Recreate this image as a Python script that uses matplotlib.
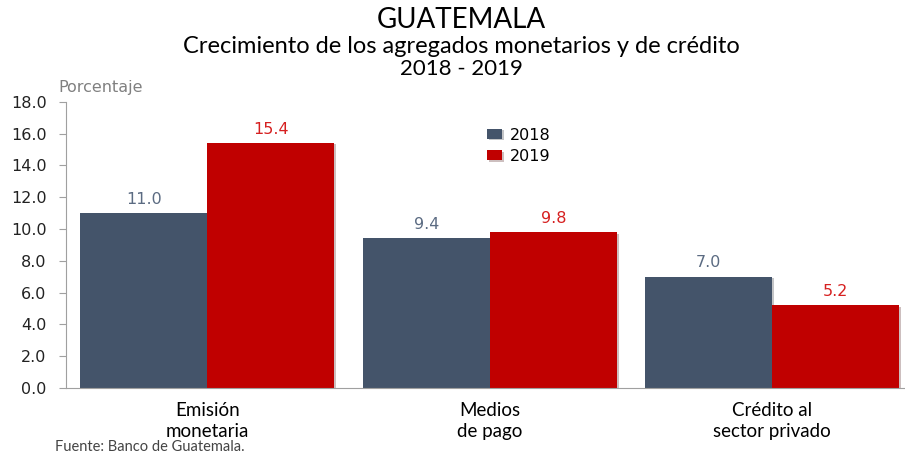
import numpy as np
import matplotlib.pyplot as plt
import matplotlib.patheffects as pe

plt.rcParams["font.family"] = ["DejaVu Sans"]

categories = ["Emisión\nmonetaria", "Medios\nde pago", "Crédito al\nsector privado"]
years = ["2018", "2019"]
values_2018 = [11.0, 9.4, 7.0]
values_2019 = [15.4, 9.8, 5.2]

col_2018 = "#44546A"
col_2019 = "#C00000"
title_font = ["Lato", "DejaVu Sans"]

fig = plt.figure(figsize=(9.05, 4.53), dpi=100)
ax = fig.add_axes([0.073, 0.1435, 0.927, 0.632])

x = np.arange(len(categories))
w = 0.45
shadow = [pe.SimplePatchShadow(offset=(1.5, -1), alpha=0.25), pe.Normal()]
b1 = ax.bar(x - w / 2, values_2018, w, color=col_2018, label=years[0], path_effects=shadow)
b2 = ax.bar(x + w / 2, values_2019, w, color=col_2019, label=years[1], path_effects=shadow)

# etiquetas de valor sobre las barras
for rect, v in zip(b1, values_2018):
    ax.text(rect.get_x() + rect.get_width() / 2, v + 0.4, f"{v:.1f}", ha="center", va="bottom",
            fontsize=11.5, color="#5B6B82")
for rect, v in zip(b2, values_2019):
    ax.text(rect.get_x() + rect.get_width() / 2, v + 0.4, f"{v:.1f}", ha="center", va="bottom",
            fontsize=11.5, color="#D62020")

ax.set_xlim(-0.5, 2.47)
ax.set_ylim(0, 18)
yt = np.arange(0, 18.1, 2)
ax.set_yticks(yt)
ax.set_yticklabels([f"{t:.1f}" for t in yt], fontsize=11.5, color="#222222")
ax.set_xticks(x)
ax.set_xticklabels(categories, fontsize=13.5, family=title_font, linespacing=1.3)
ax.tick_params(axis="x", length=0, pad=10)
ax.tick_params(axis="y", length=5, color="#A0A0A0", pad=9)

for s in ["top", "right"]:
    ax.spines[s].set_visible(False)
ax.spines["left"].set_color("#A0A0A0")
ax.spines["bottom"].set_color("#A0A0A0")

ax.legend(loc="upper left", bbox_to_anchor=(0.485, 0.96), frameon=False, fontsize=11.5,
          handlelength=0.9, handleheight=0.6, handletextpad=0.5, labelspacing=0.4)

fig.text(0.51, 0.955, "GUATEMALA", ha="center", va="center", fontsize=20, family=title_font)
fig.text(0.51, 0.898, "Crecimiento de los agregados monetarios y de crédito", ha="center",
         va="center", fontsize=17, family=title_font)
fig.text(0.51, 0.847, "2018 - 2019", ha="center", va="center", fontsize=16, family=title_font)
fig.text(0.064, 0.806, "Porcentaje", ha="left", va="center", fontsize=11.5, color="#808080")
fig.text(0.061, 0.013, "Fuente: Banco de Guatemala.", ha="left", va="center", fontsize=10.5,
         family=title_font, color="#444444")

plt.savefig("out.png")
